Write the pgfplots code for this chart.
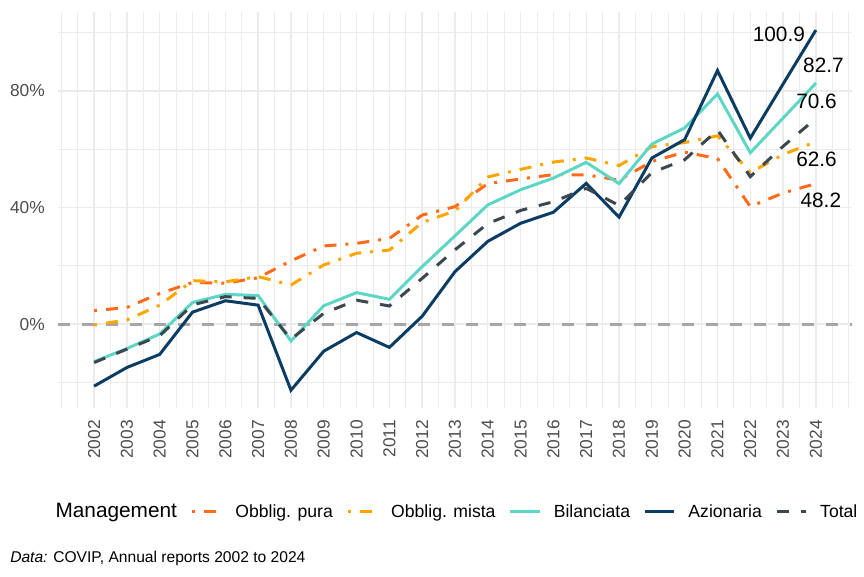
\documentclass[border=0pt]{standalone}
\usepackage{fontspec}
\setmainfont{Liberation Sans}
\usepackage{pgfplots}
\usepackage{pgfplotstable}
\pgfplotsset{compat=1.18}

\definecolor{cpura}{HTML}{FF6B1A}
\definecolor{cmista}{HTML}{FFA500}
\definecolor{cbil}{HTML}{5ED6C6}
\definecolor{cazi}{HTML}{0B3C64}
\definecolor{ctot}{HTML}{3C474F}
\definecolor{gridc}{HTML}{EBEBEB}
\definecolor{tickc}{HTML}{4D4D4D}
\definecolor{zeroc}{HTML}{A6A6A6}

% cumulative returns by management line, %
\pgfplotstableread{
year pura mista bil azi tot
2002 4.6 -0.3 -12.9 -21.3 -13.2
2003 5.7 1.4 -8.4 -14.9 -8.6
2004 10.5 6.5 -3.4 -10.4 -4.0
2005 14.3 14.9 7.4 4.1 6.6
2006 14.0 14.5 10.2 8.0 9.4
2007 15.9 16.3 9.8 6.5 8.8
2008 21.7 13.4 -5.8 -22.7 -5.2
2009 26.8 20.3 6.3 -9.3 3.7
2010 27.7 24.3 10.8 -2.9 8.2
2011 29.4 25.4 8.5 -8.0 6.2
2012 37.4 34.9 19.7 2.7 15.7
2013 40.3 38.8 30.3 18.0 25.5
2014 48.2 50.5 40.9 28.4 34.5
2015 49.8 53.1 46.1 34.6 39.0
2016 51.3 55.6 50.1 38.4 42.0
2017 51.2 57.0 55.5 48.3 46.6
2018 49.4 54.4 48.2 36.7 40.7
2019 55.8 60.9 61.8 57.0 52.0
2020 59.0 62.3 67.3 63.3 56.4
2021 56.8 64.6 79.0 87.0 66.6
2022 40.3 52.0 58.8 63.8 50.6
2023 45.0 58.2 70.7 82.4 61.0
2024 48.2 62.6 82.7 100.9 70.6
}\returns

\tikzset{
  dotdash/.style={dash pattern=on 2.25pt off 6.75pt on 9pt off 6.75pt},
  ggdash/.style={dash pattern=on 9pt off 9pt},
}

\begin{document}
\begin{tikzpicture}
\useasboundingbox (0,0) rectangle (648pt,432pt);
\begin{axis}[
  at={(43.5pt,126pt)}, anchor=south west,
  width=595.5pt, height=297pt, scale only axis,
  xmin=2000.9, xmax=2025.1, ymin=-28.8, ymax=107.1,
  clip=false,
  xtick={2002,...,2024},
  xticklabels={2002,2003,2004,2005,2006,2007,2008,2009,2010,2011,2012,2013,2014,2015,2016,2017,2018,2019,2020,2021,2022,2023,2024},
  minor xtick={2001,2001.5,...,2025},
  ytick={0,40,80},
  yticklabels={0\%,40\%,80\%},
  minor ytick={-20,20,60,100},
  grid=both,
  major grid style={gridc, line width=1pt},
  minor grid style={gridc, line width=0.6pt},
  axis line style={draw=none},
  major tick length=0pt, minor tick length=0pt,
  ticklabel style={text=tickc, font=\fontsize{13}{15}\selectfont},
  xticklabel style={yshift=-9pt, rotate=90, anchor=east, inner sep=0pt},
  yticklabel style={anchor=east, inner sep=0pt, xshift=-9.75pt},
  legend columns=6,
  legend style={draw=none, fill=none, inner sep=0pt,
    at={(axis description cs:0,-0.262)}, anchor=west, xshift=-11.5pt,
    font=\fontsize{13.2}{15}\selectfont,
    nodes={inner sep=0pt},
    /tikz/every odd column/.append style={column sep=9.5pt},
    /tikz/every even column/.append style={column sep=10pt}},
  legend cell align=left,
  legend image code/.code={\draw[#1] (0pt,0pt) -- (22pt,0pt);},
  every axis plot/.append style={line width=2.25pt},
]
\addplot[zeroc, ggdash, forget plot] coordinates {(2000.9,0) (2025.1,0)};

\addlegendimage{empty legend}
\addlegendentry{\fontsize{15.6}{17}\selectfont Management}
\addplot[cpura, dotdash] table[x=year, y=pura] {\returns};
\addlegendentry{Obblig. pura}
\addplot[cmista, dotdash] table[x=year, y=mista] {\returns};
\addlegendentry{Obblig. mista}
\addplot[cbil] table[x=year, y=bil] {\returns};
\addlegendentry{Bilanciata}
\addplot[cazi] table[x=year, y=azi] {\returns};
\addlegendentry{Azionaria}
\addplot[ctot, ggdash] table[x=year, y=tot] {\returns};
\addlegendentry{Total}

% end-of-series labels
\begin{scope}[every node/.style={inner sep=0pt, font=\fontsize{15.6}{18}\selectfont}]
\node at (axis cs:2022.87,99.4) {100.9};
\node at (axis cs:2024.23,88.75) {82.7};
\node at (axis cs:2024.02,76.4) {70.6};
\node at (axis cs:2024.02,56.65) {62.6};
\node at (axis cs:2024.15,42.3) {48.2};
\end{scope}
\end{axis}
\node[anchor=base west, inner sep=0pt, font=\fontsize{11.7}{14}\selectfont] at (7.5pt,10.5pt) {\textit{Data:} COVIP, Annual reports 2002 to 2024};
\end{tikzpicture}
\end{document}
